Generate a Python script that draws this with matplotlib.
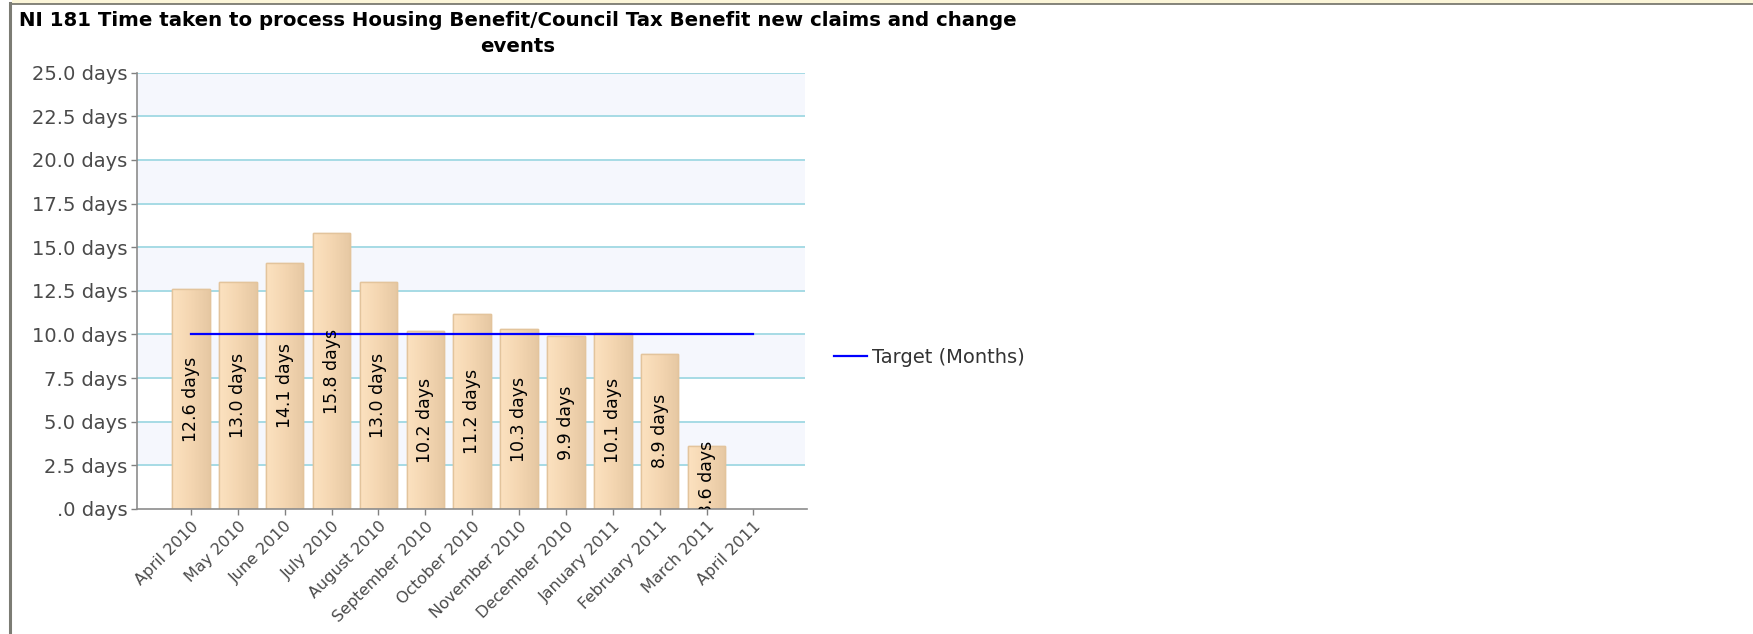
import numpy as np
import matplotlib
matplotlib.use("Agg")
import matplotlib.pyplot as plt
import matplotlib.transforms as mtransforms
from matplotlib.lines import Line2D
from matplotlib.patches import Rectangle

# data
months = ['April 2010', 'May 2010', 'June 2010', 'July 2010', 'August 2010',
          'September 2010', 'October 2010', 'November 2010', 'December 2010',
          'January 2011', 'February 2011', 'March 2011', 'April 2011']
days = [12.6, 13.0, 14.1, 15.8, 13.0, 10.2, 11.2, 10.3, 9.9, 10.1, 8.9, 3.6, None]
target = [10.0, 10.0, 10.0, 10.0, 10.0, 10.0, 10.0, 10.0, 10.0, 10.0, 10.0, 10.0, 10.0]
yticks = [0.0, 2.5, 5.0, 7.5, 10.0, 12.5, 15.0, 17.5, 20.0, 22.5, 25.0]
ytick_labels = ['.0 days', '2.5 days', '5.0 days', '7.5 days', '10.0 days', '12.5 days',
                '15.0 days', '17.5 days', '20.0 days', '22.5 days', '25.0 days']
title = "NI 181 Time taken to process Housing Benefit/Council Tax Benefit new claims and change\nevents"

plt.rcParams['font.family'] = ['DejaVu Sans']

W, H = 1753, 634
fig = plt.figure(figsize=(W / 100, H / 100), dpi=100)

# frame of the panel: yellow strip on top, grey borders
fig.patches.append(Rectangle((12 / W, 1 - 3.5 / H), 1, 3.5 / H, transform=fig.transFigure,
                             facecolor='#fbf5d8', edgecolor='none'))
fig.lines.append(Line2D([10 / W, 1], [1 - 4.2 / H, 1 - 4.2 / H], transform=fig.transFigure,
                        color='#6f6f66', lw=1.2))
fig.lines.append(Line2D([10 / W, 10 / W], [0, 1 - 3 / H], transform=fig.transFigure,
                        color='#7c7c74', lw=2.2))

ax = fig.add_axes([137 / W, 1 - 509 / H, (805 - 137) / W, (509 - 72.7) / H])
x = np.arange(len(months))

# alternating background bands + cyan grid
for lo in [2.5, 7.5, 12.5, 17.5, 22.5]:
    ax.axhspan(lo, lo + 2.5, color='#f5f7fd', zorder=0, lw=0)
for v in yticks[1:]:
    ax.axhline(v, color='#a6dbe5', lw=1.4, zorder=1)

# bars with a soft left-to-right gradient
grad = np.linspace(0, 1, 64).reshape(1, -1)
cmap = matplotlib.colors.LinearSegmentedColormap.from_list('beige', ['#fce2c0', '#f4d6b1', '#e6c8a3'])
bar_x = [i for i, v in enumerate(days) if v is not None]
bar_h = [v for v in days if v is not None]
bars = ax.bar(bar_x, bar_h, width=0.8, color='#f4d6b1', edgecolor='#e3c49c', lw=1.0, zorder=2)
for b in bars:
    bx, bw, bh = b.get_x(), b.get_width(), b.get_height()
    im = ax.imshow(grad, extent=[bx, bx + bw, 0, bh], aspect='auto', cmap=cmap, zorder=2.1)
    im.set_clip_path(b)
    ax.add_patch(Rectangle((bx, 0), bw, bh, fill=False, edgecolor='#e3c49c', lw=1.0, zorder=2.2))
    ax.text(bx + bw / 2, bh / 2, '%.1f days' % bh, rotation=90, ha='center', va='center',
            fontsize=12.5, color='black', zorder=4, clip_on=True)

ax.plot(x, target, color='#0000ff', lw=1.6, zorder=3, label='Target (Months)')

ax.set_xlim(-1.15, 13.1)
ax.set_ylim(0, 25)

ax.set_yticks(yticks)
ax.set_yticklabels(ytick_labels, fontsize=14, color='#4a4a4a')
ax.set_xticks(x)
ax.set_xticklabels(months, rotation=45, ha='right', va='top', rotation_mode='anchor',
                   fontsize=11.5, color='#4a4a4a')
offset = mtransforms.ScaledTranslation(9 / 100, 4 / 100, fig.dpi_scale_trans)
for lbl in ax.get_xticklabels():
    lbl.set_transform(lbl.get_transform() + offset)

ax.tick_params(axis='both', direction='out', length=4, width=1, color='#808080', pad=3)
for side in ['top', 'right']:
    ax.spines[side].set_visible(False)
for side in ['left', 'bottom']:
    ax.spines[side].set_color('#8c8c8c')
    ax.spines[side].set_linewidth(1.2)
ax.spines['bottom'].set_bounds(-1.15, 13.15)
ax.set_facecolor('white')

fig.text(518 / W, 1 - 11 / H, title, ha='center', va='top', fontsize=14.2, fontweight='bold',
         color='black', linespacing=1.45)

fig.legend(handles=[Line2D([], [], color='#0000ff', lw=1.6)], labels=['Target (Months)'],
           loc='center left', bbox_to_anchor=(816 / W, 1 - 357 / H), frameon=False,
           fontsize=14, handlelength=1.7, handletextpad=0.3, labelcolor='#333333')

fig.savefig('out.png', dpi=100)
